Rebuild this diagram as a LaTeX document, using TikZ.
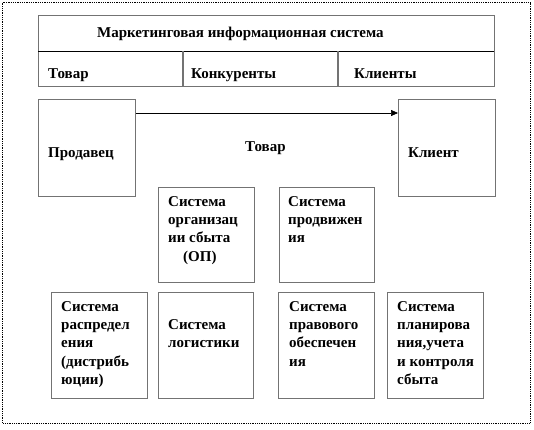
\documentclass[tikz,border=0pt]{standalone}
\usepackage{fontspec}
\setmainfont{Liberation Serif}[BoldFont={Liberation Serif Bold}]
\newfontfamily\tnr{Liberation Serif}[BoldFont={Liberation Serif Bold}]
\usetikzlibrary{arrows.meta}
\newcommand\mylines[1]{\begin{tabular}[t]{@{}l@{}}#1\end{tabular}}
\begin{document}
\begin{tikzpicture}[x=1pt,y=-1pt,
  boxst/.style={draw=black!55,line width=1.3pt,fill=white,inner sep=0pt,anchor=north west},
  txt/.style={inner sep=0pt,anchor=base west,font=\tnr\fontsize{15}{18.4}\selectfont\bfseries},
  sep/.style={draw=black!55,line width=1.3pt}]
\useasboundingbox (0,0) rectangle (534,429);
\draw[line width=0.9pt,dash pattern=on 0.9pt off 0.9pt] (2.5,2.5) rectangle (530,423);
% top table
\node[boxst,minimum width=456pt,minimum height=71pt] (mis) at (38,15) {};
\coordinate (rowl) at (38,51);
\coordinate (rowr) at (494,51);
\draw[black,line width=0.9pt] (rowl) -- (rowr);
\coordinate (c1t) at (183,51);
\coordinate (c2t) at (338,51);
\draw[sep] (c1t) -- (c1t |- mis.south);
\draw[sep] (c2t) -- (c2t |- mis.south);
\node[txt] (title) at (97,37) {Маркетинговая информационная система};
\node[txt] (t1) at (48,78) {Товар};
\node[txt] (t2) at (191,78) {Конкуренты};
\node[txt] (t3) at (354,78) {Клиенты};
% seller / client
\node[boxst,minimum width=97pt,minimum height=97pt] (seller) at (38,99) {};
\node[boxst,minimum width=97pt,minimum height=97pt] (client) at (398,99) {};
\node[txt] (sellert) at (48,157) {Продавец};
\node[txt] (clientt) at (408,157) {Клиент};
\draw[black,line width=0.7pt,-{Triangle[length=7pt,width=6pt]}] ([yshift=-14pt]seller.north east) -- ([yshift=-14pt]client.north west);
\node[txt] (goods) at (245,151) {Товар};
% middle boxes
\node[boxst,minimum width=96pt,minimum height=95pt] (op) at (158,187) {};
\node[boxst,minimum width=95pt,minimum height=95pt] (promo) at (279,187) {};
\node[txt] (opt) at (168,206) {\mylines{Система\\организац\\ии сбыта\\\hspace*{15pt}(ОП)}};
\node[txt] (promot) at (288,206) {\mylines{Система\\продвижен\\ия}};
% bottom boxes
\node[boxst,minimum width=96pt,minimum height=106pt] (dist) at (51,292) {};
\node[boxst,minimum width=95pt,minimum height=106pt] (logi) at (158,292) {};
\node[boxst,minimum width=96pt,minimum height=106pt] (legal) at (278,292) {};
\node[boxst,minimum width=96pt,minimum height=106pt] (plan) at (387,292) {};
\node[txt] (distt) at (61,311) {\mylines{Система\\распредел\\ения\\(дистрибь\\юции)}};
\node[txt] (logit) at (168,329) {\mylines{Система\\логистики}};
\node[txt] (legalt) at (289,311) {\mylines{Система\\правового\\обеспечен\\ия}};
\node[txt] (plant) at (397,311) {\mylines{Система\\планирова\\ния,учета\\и контроля\\сбыта}};
\end{tikzpicture}
\end{document}
